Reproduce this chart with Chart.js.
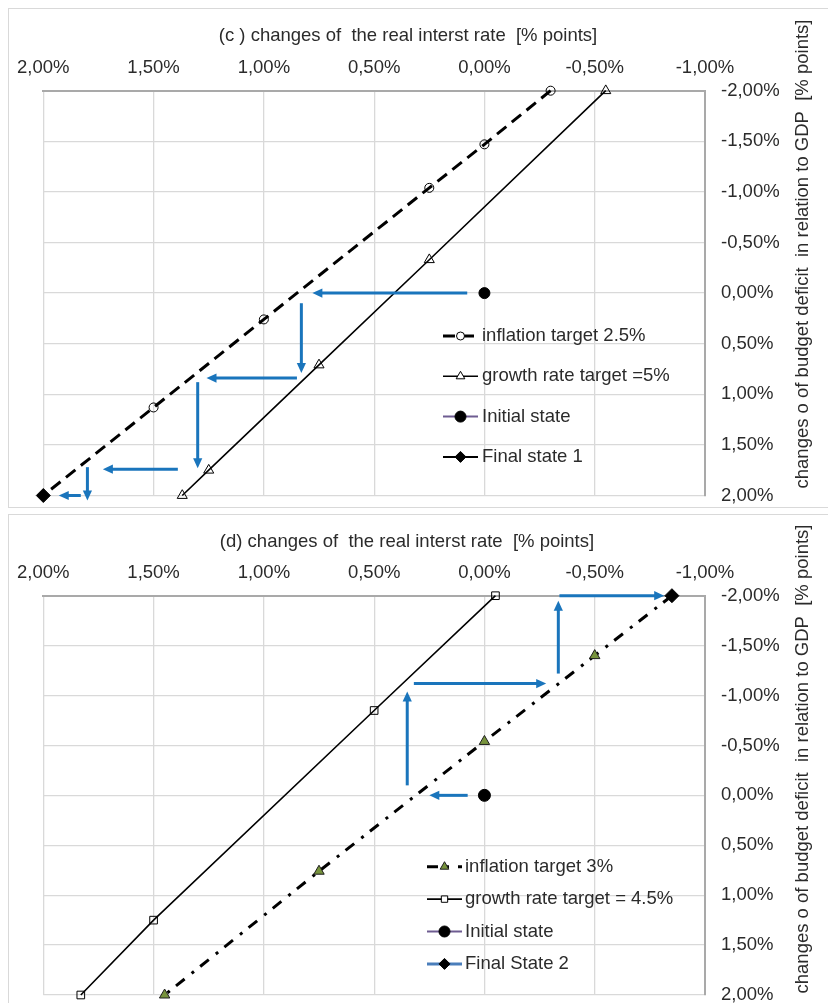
<!DOCTYPE html>
<html>
<head>
<meta charset="utf-8">
<script src="https://cdn.jsdelivr.net/npm/chart.js@4.4.1/dist/chart.umd.min.js"></script>
<style>
  html, body { margin: 0; padding: 0; background: #fff; width: 828px; height: 1003px; overflow: hidden; }
  .frame { position: absolute; border: 1.5px solid #d9d9d9; box-sizing: border-box; }
  #frameC { left: 8px; top: 8px; width: 840px; height: 500px; }
  #frameD { left: 8px; top: 514px; width: 840px; height: 520px; }
  canvas { position: absolute; left: 0; }
  #chartC { top: 0; width: 828px; height: 510px; }
  #chartD { top: 505px; width: 828px; height: 498px; }
</style>
</head>
<body>
<div class="frame" id="frameC"></div>
<div class="frame" id="frameD"></div>
<canvas id="chartC" width="828" height="510"></canvas>
<canvas id="chartD" width="828" height="498"></canvas>
<script>
// ---------- axes ----------
const xTickValues = [2.0, 1.5, 1.0, 0.5, 0.0, -0.5, -1.0];
const yTickValues = [-2.0, -1.5, -1.0, -0.5, 0.0, 0.5, 1.0, 1.5, 2.0];

const xTitleC = '(c ) changes of  the real interst rate  [% points]';
const xTitleD = '(d) changes of  the real interst rate  [% points]';
const yTitle = 'changes o of budget deficit  in relation to GDP  [% points]';

// ---------- panel (c) ----------
const labelsC = ['inflation target 2.5%', 'growth rate target =5%', 'Initial state', 'Final state 1'];
const inflationC_x = [-0.30, 0.00, 0.25, 1.00, 1.50, 2.00];
const inflationC_y = [-2.00, -1.47, -1.04, 0.26, 1.13, 2.00];
const growthC_x = [-0.55, 0.25, 0.75, 1.25, 1.37];
const growthC_y = [-2.00, -0.33, 0.71, 1.75, 2.00];
const initialC_x = [0.00];
const initialC_y = [0.00];
const finalC_x = [2.00];
const finalC_y = [2.00];
// adjustment path: start and end of each step
const stepsC_x0 = [0.078, 0.83, 0.85, 1.30, 1.39, 1.80, 1.83];
const stepsC_y0 = [0.00, 0.10, 0.84, 0.88, 1.74, 1.72, 2.00];
const stepsC_x1 = [0.78, 0.83, 1.26, 1.30, 1.73, 1.80, 1.93];
const stepsC_y1 = [0.00, 0.79, 0.84, 1.73, 1.74, 2.05, 2.00];

// ---------- panel (d) ----------
const labelsD = ['inflation target 3%', 'growth rate target = 4.5%', 'Initial state', 'Final State 2'];
const inflationD_x = [-0.85, -0.50, 0.00, 0.75, 1.45];
const inflationD_y = [-2.00, -1.40, -0.54, 0.76, 2.00];
const growthD_x = [-0.05, 0.50, 1.50, 1.83];
const growthD_y = [-2.00, -0.85, 1.25, 2.00];
const initialD_x = [0.00];
const initialD_y = [0.00];
const finalD_x = [-0.85];
const finalD_y = [-2.00];
const stepsD_x0 = [0.076, 0.35, 0.32, -0.335, -0.34];
const stepsD_y0 = [0.00, -0.10, -1.12, -1.22, -2.00];
const stepsD_x1 = [0.25, 0.35, -0.28, -0.335, -0.815];
const stepsD_y1 = [0.00, -1.04, -1.12, -1.95, -2.00];

// ---------- styling ----------
const FONT = '"Liberation Sans", Arial, sans-serif';
const SIZE = 18.5;
const TEXT = '#2b2b2b';
const GRID = '#d9d9d9';
const AXIS = '#a9a9a9';
const ARROW = '#1a75bc';
const NONE = 'rgba(0,0,0,0)';

function pts(xs, ys) { return xs.map((x, i) => ({ x: x, y: ys[i] })); }
function pct(v) {
  if (Math.abs(v) < 1e-9) v = 0;
  return v.toFixed(2).replace('.', ',') + '%';
}

function marker(ctx, style, r, x, y, stroke) {
  ctx.beginPath();
  if (style === 'circle') {
    ctx.arc(x, y, r, 0, 2 * Math.PI);
  } else if (style === 'triangle') {
    ctx.moveTo(x, y - r);
    ctx.lineTo(x + r * 0.866, y + r * 0.5);
    ctx.lineTo(x - r * 0.866, y + r * 0.5);
    ctx.closePath();
  } else if (style === 'rect') {
    const s = r * Math.SQRT1_2;
    ctx.rect(x - s, y - s, 2 * s, 2 * s);
  } else if (style === 'rectRot') {
    ctx.moveTo(x, y - r);
    ctx.lineTo(x + r, y);
    ctx.lineTo(x, y + r);
    ctx.lineTo(x - r, y);
    ctx.closePath();
  }
  ctx.fill();
  if (stroke) ctx.stroke();
}

// axis captions: title above the top axis, rotated title beside the right axis
const captions = {
  id: 'captions',
  afterDraw(chart, args, o) {
    const ctx = chart.ctx;
    ctx.save();
    ctx.fillStyle = TEXT;
    ctx.font = SIZE + 'px ' + FONT;
    ctx.textAlign = 'center';
    ctx.textBaseline = 'middle';
    ctx.fillText(o.top, o.topX, o.topY);
    ctx.translate(o.sideX, o.sideY);
    ctx.rotate(-Math.PI / 2);
    ctx.fillText(o.side, 0, 0);
    ctx.restore();
  }
};

// blue step arrows of the adjustment path
const arrows = {
  id: 'arrows',
  afterDatasetsDraw(chart, args, o) {
    const ctx = chart.ctx;
    chart.data.datasets.forEach((ds, i) => {
      if (!ds.arrow) return;
      const els = chart.getDatasetMeta(i).data;
      const a = els[0], b = els[1];
      const ang = Math.atan2(b.y - a.y, b.x - a.x);
      const L = o.head, W = o.half;
      ctx.save();
      ctx.strokeStyle = ds.borderColor;
      ctx.fillStyle = ds.borderColor;
      ctx.lineWidth = o.width;
      ctx.lineCap = 'butt';
      ctx.beginPath();
      ctx.moveTo(a.x, a.y);
      ctx.lineTo(b.x - Math.cos(ang) * (L - 1), b.y - Math.sin(ang) * (L - 1));
      ctx.stroke();
      ctx.translate(b.x, b.y);
      ctx.rotate(ang);
      ctx.beginPath();
      ctx.moveTo(0, 0);
      ctx.lineTo(-L, -W);
      ctx.lineTo(-L, W);
      ctx.closePath();
      ctx.fill();
      ctx.restore();
    });
  }
};

// legend drawn inside the plot area
const insideLegend = {
  id: 'insideLegend',
  afterDraw(chart, args, o) {
    const ctx = chart.ctx;
    o.items.forEach((di, row) => {
      const ds = chart.data.datasets[di];
      const y = o.y + row * o.rowGap;
      ctx.save();
      ctx.strokeStyle = ds.borderColor;
      ctx.lineWidth = ds.legendLineWidth || ds.borderWidth;
      ctx.setLineDash(ds.borderDash || []);
      ctx.beginPath();
      ctx.moveTo(o.x, y);
      ctx.lineTo(o.x + o.lineLen, y);
      ctx.stroke();
      ctx.setLineDash([]);
      ctx.fillStyle = ds.legendFill || ds.pointBackgroundColor;
      ctx.strokeStyle = ds.pointBorderColor;
      ctx.lineWidth = ds.pointBorderWidth;
      marker(ctx, ds.pointStyle, ds.legendRadius, o.x + o.lineLen / 2, y, ds.pointBorderWidth > 0);
      ctx.fillStyle = TEXT;
      ctx.font = SIZE + 'px ' + FONT;
      ctx.textAlign = 'left';
      ctx.textBaseline = 'middle';
      ctx.fillText(ds.label, o.x + o.lineLen + o.textGap, y);
      ctx.restore();
    });
  }
};

function stepSets(x0, y0, x1, y1) {
  return x0.map((x, i) => ({
    data: pts([x, x1[i]], [y0[i], y1[i]]),
    arrow: true,
    showLine: false,
    pointRadius: 0,
    borderColor: ARROW,
    clip: false
  }));
}

function scales(plotTop, axisWidth) {
  const tickFont = { family: FONT, size: SIZE };
  return {
    x: {
      type: 'linear', position: 'top', reverse: true, min: -1, max: 2,
      afterBuildTicks: s => { s.ticks = xTickValues.map(v => ({ value: v })); },
      afterFit: s => { s.height = plotTop; s.paddingLeft = 0; s.paddingRight = 0; },
      grid: { color: GRID, lineWidth: 1.3, drawTicks: false },
      border: { display: true, color: AXIS, width: 2 },
      ticks: { callback: v => pct(v), font: tickFont, color: TEXT, padding: 12, maxRotation: 0, autoSkip: false }
    },
    y: {
      type: 'linear', position: 'right', reverse: true, min: -2, max: 2,
      afterBuildTicks: s => { s.ticks = yTickValues.map(v => ({ value: v })); },
      afterFit: s => { s.width = axisWidth; s.paddingTop = 0; s.paddingBottom = 0; },
      grid: { color: GRID, lineWidth: 1.3, drawTicks: false },
      border: { display: true, color: AXIS, width: 2 },
      ticks: { callback: v => pct(v), font: tickFont, color: TEXT, padding: 16, crossAlign: 'near', autoSkip: false }
    }
  };
}

function baseOptions(padBottom, cap, legend) {
  return {
    responsive: false,
    animation: false,
    events: [],
    layout: { padding: { left: 43.3, right: 0, top: 0, bottom: padBottom } },
    scales: scales(90.7, 123),
    plugins: {
      legend: { display: false },
      tooltip: { enabled: false },
      captions: cap,
      arrows: { head: 10, half: 4.6, width: 3 },
      insideLegend: legend
    }
  };
}

// ---------- panel (c) ----------
new Chart(document.getElementById('chartC'), {
  type: 'scatter',
  data: {
    datasets: [
      { label: labelsC[3], data: pts(finalC_x, finalC_y), pointStyle: 'rectRot', pointRadius: 7,
        pointBackgroundColor: '#000', pointBorderColor: '#000', pointBorderWidth: 1,
        borderColor: '#000', borderWidth: 2, legendRadius: 5.5, clip: false },
      { label: labelsC[2], data: pts(initialC_x, initialC_y), pointStyle: 'circle', pointRadius: 5.5,
        pointBackgroundColor: '#000', pointBorderColor: '#000', pointBorderWidth: 1,
        borderColor: '#6e5c91', borderWidth: 2, legendRadius: 5.5, clip: false },
      { label: labelsC[0], data: pts(inflationC_x, inflationC_y), showLine: true,
        borderColor: '#000', borderWidth: 3, borderDash: [12, 7],
        pointStyle: 'circle', pointRadius: [4.5, 4.5, 4.5, 4.5, 4.5, 0],
        pointBackgroundColor: NONE, pointBorderColor: '#000', pointBorderWidth: 1,
        legendFill: '#fff', legendRadius: 4, clip: false },
      { label: labelsC[1], data: pts(growthC_x, growthC_y), showLine: true,
        borderColor: '#000', borderWidth: 1.6,
        pointStyle: 'triangle', pointRadius: 5.8,
        pointBackgroundColor: NONE, pointBorderColor: '#000', pointBorderWidth: 1,
        legendFill: '#fff', legendRadius: 5, clip: false },
      ...stepSets(stepsC_x0, stepsC_y0, stepsC_x1, stepsC_y1)
    ]
  },
  options: baseOptions(14.5,
    { top: xTitleC, topX: 408, topY: 36, side: yTitle, sideX: 803, sideY: 254 },
    { items: [2, 3, 1, 0], x: 443, y: 336, rowGap: 40.3, lineLen: 35, textGap: 4 }),
  plugins: [captions, arrows, insideLegend]
});

// ---------- panel (d) ----------
new Chart(document.getElementById('chartD'), {
  type: 'scatter',
  data: {
    datasets: [
      { label: labelsD[3], data: pts(finalD_x, finalD_y), pointStyle: 'rectRot', pointRadius: 7,
        pointBackgroundColor: '#000', pointBorderColor: '#000', pointBorderWidth: 1,
        borderColor: '#4a7ebb', borderWidth: 3, legendRadius: 5.5, clip: false },
      { label: labelsD[2], data: pts(initialD_x, initialD_y), pointStyle: 'circle', pointRadius: 6,
        pointBackgroundColor: '#000', pointBorderColor: '#000', pointBorderWidth: 1,
        borderColor: '#6e5c91', borderWidth: 2, legendRadius: 5.5, clip: false },
      { label: labelsD[0], data: pts(inflationD_x, inflationD_y), showLine: true,
        borderColor: '#000', borderWidth: 3, borderDash: [11, 8, 3, 9],
        pointStyle: 'triangle', pointRadius: [0, 6, 6, 6, 6],
        pointBackgroundColor: '#77933c', pointBorderColor: '#1e1e1e', pointBorderWidth: 1,
        legendRadius: 5, clip: false },
      { label: labelsD[1], data: pts(growthD_x, growthD_y), showLine: true,
        borderColor: '#000', borderWidth: 1.6,
        pointStyle: 'rect', pointRadius: 5.4,
        pointBackgroundColor: NONE, pointBorderColor: '#000', pointBorderWidth: 1,
        legendFill: '#fff', legendRadius: 4.5, clip: false },
      ...stepSets(stepsD_x0, stepsD_y0, stepsD_x1, stepsD_y1)
    ]
  },
  options: baseOptions(5.7,
    { top: xTitleD, topX: 407, topY: 36.5, side: yTitle, sideX: 803, sideY: 254 },
    { items: [2, 3, 1, 0], x: 427, y: 361.7, rowGap: 32.4, lineLen: 35, textGap: 3 }),
  plugins: [captions, arrows, insideLegend]
});
</script>
</body>
</html>
